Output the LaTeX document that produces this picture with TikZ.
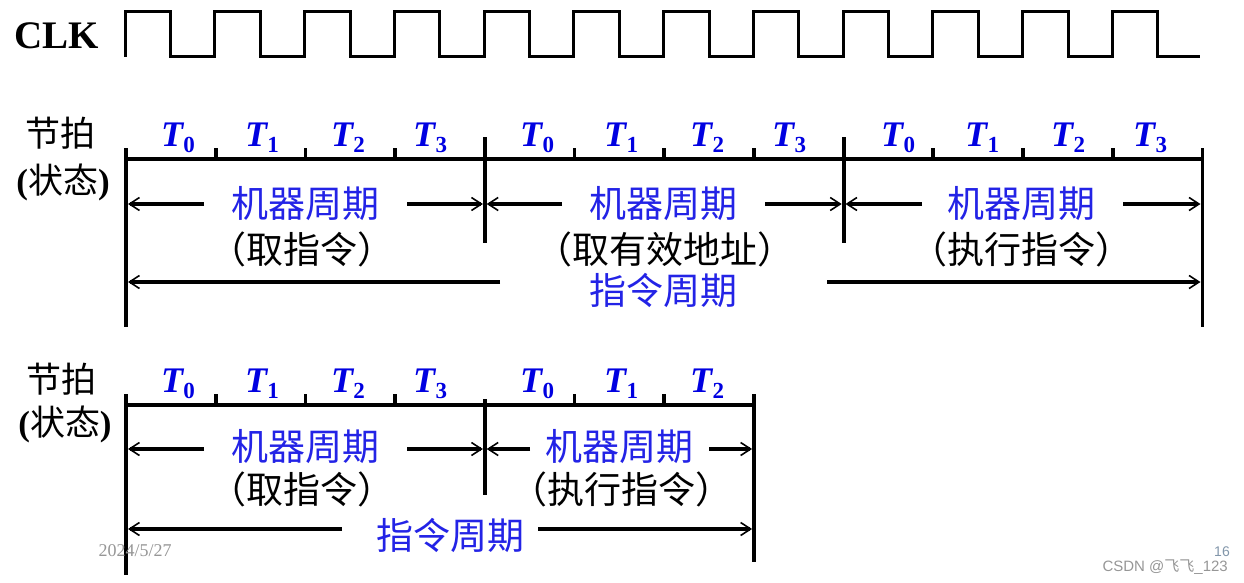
\documentclass[tikz,border=0pt]{standalone}
\usepackage{fontspec}
\setmainfont{Liberation Serif}
\newfontfamily\cjk{Noto Sans CJK SC}
\newfontfamily\lsans{Liberation Sans}
\usetikzlibrary{arrows.meta}
\definecolor{tblue}{RGB}{0,0,225}
\definecolor{cblue}{RGB}{35,35,230}
\definecolor{foot}{RGB}{150,150,150}
\definecolor{pagenum}{RGB}{130,150,170}
\newcommand\Tsub[1]{T\kern0.5pt\raisebox{-6pt}{\fontsize{23}{23}\selectfont\upshape\bfseries #1}}
\begin{document}
\begin{tikzpicture}[x=1pt,y=-1pt,
  wave/.style={line width=3pt, line join=miter},
  axis/.style={line width=3.8pt},
  arr/.style={line width=3.8pt, -{Straight Barb[length=10pt,width=13pt,line width'=1.6pt]}},
  tlab/.style={text=tblue, font=\fontsize{36}{40}\selectfont\bfseries\itshape, anchor=base, inner sep=0pt},
  mc/.style={text=cblue, font=\cjk\fontsize{37}{40}\selectfont, inner sep=0pt},
  sub/.style={text=black, font=\cjk\fontsize{37}{40}\selectfont, inner sep=0pt},
  side/.style={font=\fontsize{35}{36}\selectfont, inner sep=0pt},
]
\useasboundingbox (0,0) rectangle (1244,583);
% CLK
\node[anchor=base west, inner sep=0pt, font=\fontsize{39}{40}\selectfont\bfseries] (clk) at (14,48.5) {CLK};
\draw[wave] (125,57) \foreach \k in {0,...,11} { -- ({125+89.75*\k},57) -- ({125+89.75*\k},12) -- ({170.5+89.75*\k},12) -- ({170.5+89.75*\k},57) } -- (1200,57);

% ===== Row 1 =====
\node[side] (jp1) at (60,133) {\cjk 节拍};
\node[side] (zt1) at (63,182) {\textbf{(}{\cjk 状态}\textbf{)}};
\draw[axis] (124,159) -- (1204,159);
\foreach \k in {1,2,3,5,6,7,9,10,11} \draw[axis] ({126+89.7*\k},148) -- ({126+89.7*\k},159);
\draw[axis] (126,148) -- (126,327);
\draw[axis] (1202.4,148) -- (1202.4,327);
\draw[axis] (484.8,137) -- (484.8,243);
\draw[axis] (843.6,137) -- (843.6,243);
\foreach \x/\s [count=\i] in {178/0,262/1,348/2,430/3,537/0,621/1,707/2,789/3,898/0,982/1,1068/2,1150/3}
  \node[tlab] (ta\i) at (\x,146.5) {\Tsub{\s}};
% machine cycles
\node[mc] (m11) at (305,204) {机器周期};
\node[sub] (s11) at (302,249) {（取指令）};
\node[mc] (m12) at (663.5,204) {机器周期};
\node[sub] (s12) at (664.5,249) {（取有效地址）};
\node[mc] (m13) at (1021.5,204) {机器周期};
\node[sub] (s13) at (1021,249) {（执行指令）};
\draw[arr] (204,204) -- (128,204);
\draw[arr] (407,204) -- (482.9,204);
\draw[arr] (562,204) -- (486.7,204);
\draw[arr] (765,204) -- (841.7,204);
\draw[arr] (922,204) -- (845.5,204);
\draw[arr] (1123,204) -- (1200.5,204);
% instruction cycle
\node[mc] (i1) at (663.5,290) {指令周期};
\draw[arr] (500,282) -- (128,282);
\draw[arr] (827,282) -- (1200.5,282);

% ===== Row 2 =====
\node[side] (jp2) at (62,379) {\cjk 节拍};
\node[side] (zt2) at (65,424) {\textbf{(}{\cjk 状态}\textbf{)}};
\draw[axis] (124,405) -- (756,405);
\foreach \k in {1,2,3,5,6} \draw[axis] ({126+89.7*\k},394) -- ({126+89.7*\k},405);
\draw[axis] (126,394) -- (126,575);
\draw[axis] (754,394) -- (754,562);
\draw[axis] (484.8,399) -- (484.8,495);
\foreach \x/\s [count=\i] in {178/0,262/1,348/2,430/3,537/0,621/1,707/2}
  \node[tlab] (tb\i) at (\x,392.5) {\Tsub{\s}};
\node[mc] (m21) at (305,447) {机器周期};
\node[sub] (s21) at (302,489) {（取指令）};
\node[mc] (m22) at (619,447) {机器周期};
\node[sub] (s22) at (621,489) {（执行指令）};
\draw[arr] (204,449) -- (128,449);
\draw[arr] (407,449) -- (482.9,449);
\draw[arr] (530,449) -- (486.7,449);
\draw[arr] (709,449) -- (752.1,449);
\node[mc] (i2) at (450,535) {指令周期};
\draw[arr] (342,529) -- (128,529);
\draw[arr] (538,529) -- (752.1,529);

% footer
\node[text=foot, font=\fontsize{18}{18}\selectfont, inner sep=0pt] (date) at (135,551) {2024/5/27};
\node[text=pagenum, font=\lsans\fontsize{14}{14}\selectfont, inner sep=0pt, anchor=base east] (pg) at (1230,556.5) {16};
\node[text=foot, font=\lsans\fontsize{15}{15}\selectfont, inner sep=0pt, anchor=base east] (csdn) at (1228,571) {CSDN @{\cjk 飞飞}\_123};
\end{tikzpicture}
\end{document}
